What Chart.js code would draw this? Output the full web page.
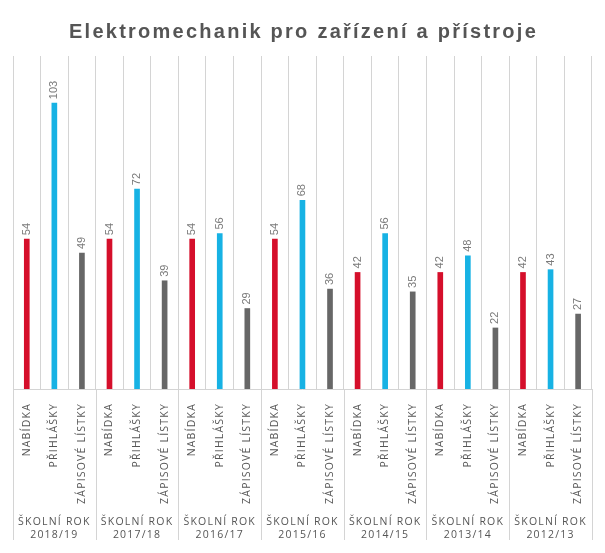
<!DOCTYPE html>
<html lang="cs">
<head>
  <meta charset="UTF-8">
  <title>Elektromechanik pro zařízení a přístroje</title>
  <script src="https://cdn.jsdelivr.net/npm/chart.js"></script>
</head>
<body style="margin:0; background:#fff;">
  <div style="width:605px; height:553px; position:relative;">
    <canvas id="chart"></canvas>
  </div>

  <script>
    // data
    const years = ['2018/19', '2017/18', '2016/17', '2015/16', '2014/15', '2013/14', '2012/13'];
    const seriesNames = ['NABÍDKA', 'PŘIHLÁŠKY', 'ZÁPISOVÉ LÍSTKY'];
    const offers = [54, 54, 54, 54, 42, 42, 42];
    const applications = [103, 72, 56, 68, 56, 48, 43];
    const enrolments = [49, 39, 29, 36, 35, 22, 27];
    const seriesColors = ['#d50f2b', '#17b2e4', '#676767'];

    // flatten into one bar per category
    const labels = [];
    const values = [];
    const colors = [];
    years.forEach((y, i) => {
      [offers[i], applications[i], enrolments[i]].forEach((v, s) => {
        labels.push(seriesNames[s]);
        values.push(v);
        colors.push(seriesColors[s]);
      });
    });
    const groupLabels = years.map(y => ['ŠKOLNÍ ROK', y]);

    const titlePlugin = {
      id: 'spacedTitle',
      afterDraw(chart) {
        const ctx = chart.ctx;
        ctx.save();
        ctx.font = 'bold 20px "Liberation Sans", Arial, sans-serif';
        ctx.letterSpacing = '2.25px';
        ctx.fillStyle = '#555555';
        ctx.textAlign = 'center';
        ctx.textBaseline = 'middle';
        ctx.fillText('Elektromechanik pro zařízení a přístroje', chart.width / 2 + 1, 32);
        ctx.restore();
      }
    };

    // letter spacing for axis labels: category axis before bars,
    // year axis (z: 1) after bars
    const spacingPlugin = {
      id: 'axisSpacing',
      beforeDraw(chart) { chart.ctx.letterSpacing = '1.2px'; },
      beforeDatasetsDraw(chart) { chart.ctx.letterSpacing = '0px'; },
      afterDatasetsDraw(chart) { chart.ctx.letterSpacing = '0.7px'; }
    };

    const groupLinesPlugin = {
      id: 'groupLines',
      afterDraw(chart) {
        const ctx = chart.ctx;
        const x = chart.scales.x;
        const x2 = chart.scales.x2;
        ctx.save();
        ctx.strokeStyle = '#d4d4d4';
        ctx.lineWidth = 1;
        for (let g = 0; g <= years.length; g++) {
          const px = Math.round(x.left + g * x.width / years.length) + 0.5;
          ctx.beginPath();
          ctx.moveTo(px, chart.chartArea.bottom);
          ctx.lineTo(px, x2.bottom - 8);
          ctx.stroke();
        }
        ctx.restore();
      }
    };

    const valueLabelPlugin = {
      id: 'valueLabels',
      afterDatasetsDraw(chart) {
        const ctx = chart.ctx;
        const meta = chart.getDatasetMeta(0);
        ctx.save();
        ctx.letterSpacing = '0px';
        ctx.font = '11px "Liberation Sans", Arial, sans-serif';
        ctx.fillStyle = '#7a7a7a';
        ctx.textAlign = 'left';
        ctx.textBaseline = 'middle';
        meta.data.forEach((bar, i) => {
          ctx.save();
          ctx.translate(bar.x, bar.y - 4);
          ctx.rotate(-Math.PI / 2);
          ctx.fillText(values[i], 0, 0);
          ctx.restore();
        });
        ctx.restore();
      }
    };

    new Chart(document.getElementById('chart'), {
      type: 'bar',
      data: {
        labels: labels,
        datasets: [{
          data: values,
          backgroundColor: colors,
          barThickness: 5,
          xAxisID: 'x'
        }]
      },
      options: {
        responsive: true,
        maintainAspectRatio: false,
        animation: false,
        layout: { padding: { top: 56, left: 13, right: 12, bottom: 5 } },
        plugins: {
          legend: { display: false },
          tooltip: { enabled: false },
          title: { display: false }
        },
        scales: {
          x: {
            position: 'bottom',
            grid: { color: '#d4d4d4', drawTicks: false, offset: true },
            border: { color: '#d4d4d4' },
            ticks: {
              autoSkip: false,
              minRotation: 90,
              maxRotation: 90,
              padding: 14,
              color: '#555555',
              font: { family: '"Open Sans", sans-serif', size: 10.5 }
            },
            afterFit(scale) { scale.height = 117; }
          },
          x2: {
            type: 'category',
            position: 'bottom',
            z: 1,
            labels: groupLabels,
            grid: { display: false },
            border: { display: false },
            ticks: {
              maxRotation: 0,
              padding: 2,
              color: '#555555',
              font: { family: '"Open Sans", sans-serif', size: 10.5, lineHeight: 1.2 }
            },
            afterFit(scale) { scale.height = 42; }
          },
          y: {
            display: false,
            min: 0,
            max: 120
          }
        }
      },
      plugins: [spacingPlugin, titlePlugin, groupLinesPlugin, valueLabelPlugin]
    });
  </script>
</body>
</html>
